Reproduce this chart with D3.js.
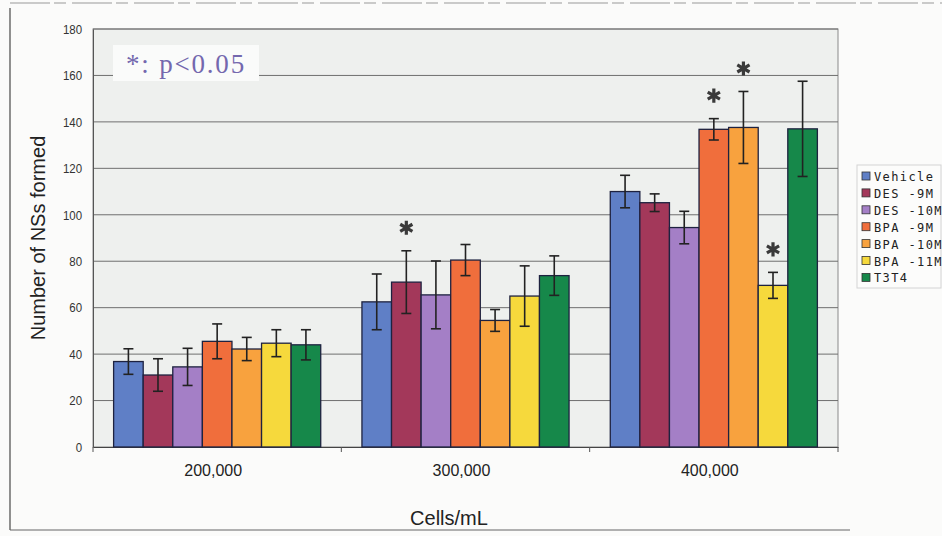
<!DOCTYPE html>
<html>
<head>
<meta charset="utf-8">
<script src="https://cdn.jsdelivr.net/npm/d3@7/dist/d3.min.js"></script>
<style>
  html, body { margin: 0; padding: 0; background: #fafaf9; }
  svg { display: block; }
</style>
</head>
<body>
<svg id="chart" width="942" height="536"></svg>
<script>
// Cell densities (x categories)
const categories = ["200,000", "300,000", "400,000"];
// Treatments (legend entries)
const seriesNames = ["Vehicle", "DES -9M", "DES -10M", "BPA -9M", "BPA -10M", "BPA -11M", "T3T4"];
const seriesColors = ["#5f7fc6", "#a3385a", "#a47fc6", "#f06e3c", "#f8a23e", "#f6d93c", "#16884a"];
// Mean number of neurospheres, one array per treatment (values per category)
const vehicle  = [36.8, 62.5, 110.0];
const des9     = [31.0, 71.0, 105.2];
const des10    = [34.5, 65.5, 94.5];
const bpa9     = [45.5, 80.5, 136.8];
const bpa10    = [42.2, 54.5, 137.6];
const bpa11    = [44.7, 65.0, 69.6];
const t3t4     = [44.0, 73.8, 137.0];
// Error bar half-widths
const vehicleErr = [5.5, 12.0, 7.0];
const des9Err    = [7.0, 13.5, 3.8];
const des10Err   = [8.0, 14.6, 7.0];
const bpa9Err    = [7.5, 6.7, 4.6];
const bpa10Err   = [5.0, 4.7, 15.5];
const bpa11Err   = [5.8, 13.0, 5.6];
const t3t4Err    = [6.5, 8.5, 20.5];
// Significance marks: [series index, category index]
const significant = [[1, 1], [3, 2], [4, 2], [5, 2]];
const yTicks = [0, 20, 40, 60, 80, 100, 120, 140, 160, 180];

const means = [vehicle, des9, des10, bpa9, bpa10, bpa11, t3t4];
const errs = [vehicleErr, des9Err, des10Err, bpa9Err, bpa10Err, bpa11Err, t3t4Err];

const svg = d3.select("#chart");
const W = 942, H = 536;
const plot = { left: 93, right: 838, top: 29, bottom: 447 };
const sans = "'Liberation Sans', Arial, sans-serif";

// Outer frame
svg.append("rect").attr("x", 0).attr("y", 0).attr("width", W).attr("height", H).attr("fill", "#fbfbfa");
svg.append("line").attr("x1", 10).attr("x2", 10).attr("y1", 8).attr("y2", 530)
  .attr("stroke", "#555").attr("stroke-width", 1.3);
svg.append("line").attr("x1", 10).attr("x2", 850).attr("y1", 530).attr("y2", 530)
  .attr("stroke", "#666").attr("stroke-width", 1.2);
svg.append("line").attr("x1", 10).attr("x2", 942).attr("y1", 3).attr("y2", 3)
  .attr("stroke", "#999").attr("stroke-width", 1).attr("stroke-dasharray", "40,4,12,6");

const x0 = d3.scaleBand().domain(categories).range([plot.left, plot.right]).paddingInner(0.166).paddingOuter(0.083);
const x1 = d3.scaleBand().domain(seriesNames).range([0, x0.bandwidth()]).padding(0);
const y = d3.scaleLinear().domain([0, 180]).range([plot.bottom, plot.top]);

// Plot area
svg.append("rect")
  .attr("x", plot.left).attr("y", plot.top)
  .attr("width", plot.right - plot.left).attr("height", plot.bottom - plot.top)
  .attr("fill", "#eef0ee").attr("stroke", "#8a8a8a").attr("stroke-width", 1);

// Gridlines
svg.append("g").selectAll("line").data(yTicks.filter(d => d > 0)).join("line")
  .attr("x1", plot.left).attr("x2", plot.right)
  .attr("y1", d => y(d)).attr("y2", d => y(d))
  .attr("stroke", "#6f6f6f").attr("stroke-width", 1);

// Y axis
const yAxis = d3.axisLeft(y).tickValues(yTicks).tickSize(0).tickPadding(11);
const gy = svg.append("g").attr("transform", `translate(${plot.left},0)`).call(yAxis);
gy.select(".domain").attr("stroke", "#555");
gy.selectAll("text").attr("font-family", sans)
  .attr("font-size", 13.5).attr("fill", "#333").attr("transform", "scale(0.85,1)")
  .attr("x", -11 / 0.85);

// X axis
const xAxis = d3.axisBottom(x0).tickSize(0).tickPadding(18);
const gx = svg.append("g").attr("transform", `translate(0,${plot.bottom})`).call(xAxis);
gx.select(".domain").attr("stroke", "#444").attr("stroke-width", 1.2);
gx.selectAll("text").attr("font-family", sans)
  .attr("font-size", 16).attr("fill", "#222").attr("x", -4);
// Category boundary ticks
const bounds = [plot.left, (x0("200,000") + x0.bandwidth() + x0("300,000")) / 2,
  (x0("300,000") + x0.bandwidth() + x0("400,000")) / 2, plot.right];
svg.append("g").selectAll("line").data(bounds).join("line")
  .attr("x1", d => d).attr("x2", d => d).attr("y1", plot.bottom).attr("y2", plot.bottom + 5)
  .attr("stroke", "#555");

// Bars with error bars
const groups = svg.append("g").selectAll("g").data(categories).join("g")
  .attr("transform", d => `translate(${x0(d)},0)`);

groups.each(function (cat, ci) {
  const g = d3.select(this);
  seriesNames.forEach((s, si) => {
    const v = means[si][ci], e = errs[si][ci];
    const bx = x1(s), bw = x1.bandwidth();
    g.append("rect")
      .attr("x", bx).attr("y", y(v)).attr("width", bw).attr("height", y(0) - y(v))
      .attr("fill", seriesColors[si]).attr("stroke", "#1e2240").attr("stroke-width", 1.3);
    const cx = bx + bw / 2;
    g.append("line").attr("x1", cx).attr("x2", cx).attr("y1", y(v + e)).attr("y2", y(v - e))
      .attr("stroke", "#222").attr("stroke-width", 1.6);
    [v + e, v - e].forEach(t => g.append("line")
      .attr("x1", cx - 5).attr("x2", cx + 5).attr("y1", y(t)).attr("y2", y(t))
      .attr("stroke", "#222").attr("stroke-width", 1.6));
  });
});

// Significance asterisks above the error bars
const star = d3.symbol().type(d3.symbolAsterisk).size(140);
svg.append("g").selectAll("path").data(significant).join("path")
  .attr("d", star)
  .attr("transform", d => {
    const cx = x0(categories[d[1]]) + x1(seriesNames[d[0]]) + x1.bandwidth() / 2;
    const cy = y(means[d[0]][d[1]] + errs[d[0]][d[1]]) - 23;
    return `translate(${cx},${cy})`;
  })
  .attr("fill", "none").attr("stroke", "#3a3a3a").attr("stroke-width", 3.2);

// p-value note
svg.append("rect").attr("x", 113).attr("y", 45).attr("width", 146).attr("height", 36).attr("fill", "#fafbfa");
svg.append("text").attr("x", 126).attr("y", 73)
  .attr("font-family", "'Liberation Serif', 'Times New Roman', serif")
  .attr("font-size", 27).attr("fill", "#7468ae").attr("letter-spacing", 1.8)
  .text("*: p<0.05");

// Axis titles
svg.append("text")
  .attr("transform", `translate(45,${(plot.top + plot.bottom) / 2}) rotate(-90)`)
  .attr("text-anchor", "middle")
  .attr("font-family", sans)
  .attr("font-size", 20).attr("fill", "#222")
  .text("Number of NSs formed");
svg.append("text")
  .attr("x", 449).attr("y", 525)
  .attr("text-anchor", "middle")
  .attr("font-family", sans)
  .attr("font-size", 20).attr("fill", "#222")
  .text("Cells/mL");

// Legend
const lg = svg.append("g").attr("transform", "translate(857,165)");
lg.append("rect").attr("x", 0).attr("y", 0).attr("width", 84).attr("height", 123)
  .attr("fill", "#fcfcfb").attr("stroke", "#d4d4d4");
const items = lg.selectAll("g").data(seriesNames).join("g")
  .attr("transform", (d, i) => `translate(5,${12 + i * 16.9})`);
items.append("rect").attr("x", 0).attr("y", -5).attr("width", 8).attr("height", 8)
  .attr("fill", (d, i) => seriesColors[i]).attr("stroke", "#333").attr("stroke-width", 0.8);
items.append("text").attr("x", 12).attr("y", 4)
  .attr("font-family", "'DejaVu Sans Mono', monospace")
  .attr("font-size", 12).attr("fill", "#222")
  .attr("letter-spacing", 1.4)
  .text(d => d);
</script>
</body>
</html>
